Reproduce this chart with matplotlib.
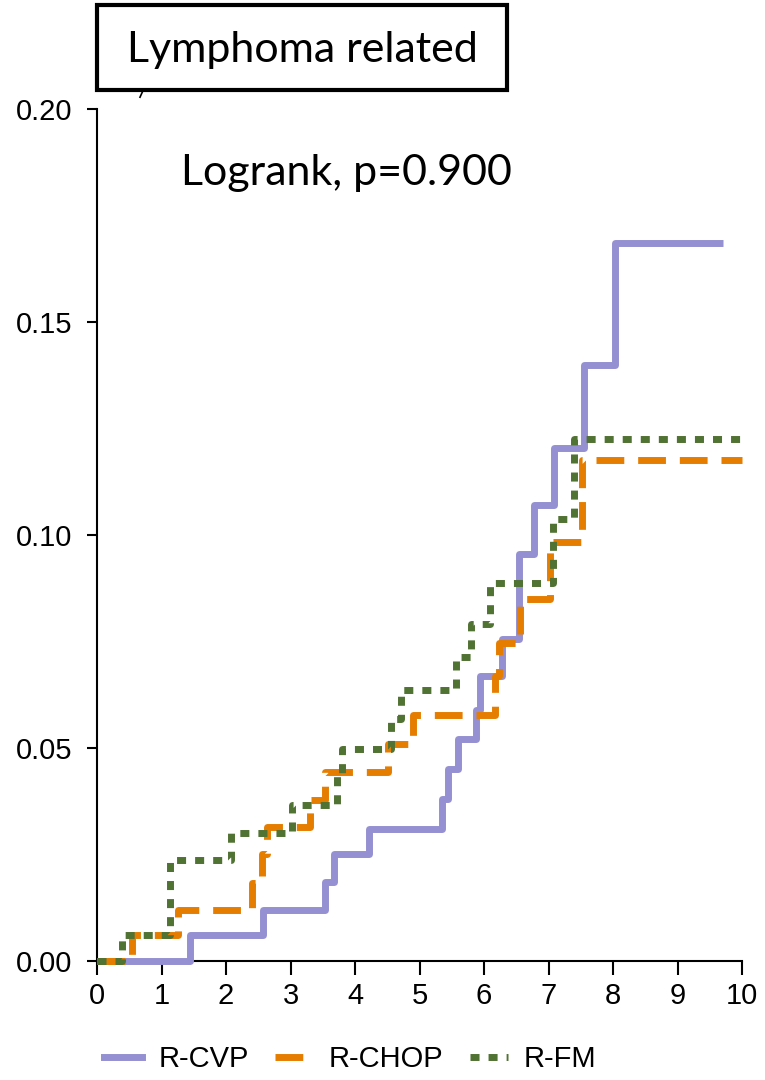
import matplotlib
matplotlib.use("Agg")
import matplotlib.pyplot as plt
from matplotlib.patches import Rectangle
from matplotlib.lines import Line2D

# cumulative incidence
cvp_t = [0, 1.44, 2.58, 3.53, 3.68, 4.22, 5.35, 5.44, 5.59, 5.88, 5.94, 6.28, 6.54, 6.77, 7.08, 7.55, 8.03, 9.70]
cvp_y = [0, 0.006, 0.012, 0.0185, 0.025, 0.031, 0.038, 0.045, 0.052, 0.059, 0.067, 0.0756, 0.0955, 0.107, 0.1205, 0.140, 0.1685, 0.1685]

chop_t = [0, 0.55, 1.26, 2.40, 2.56, 2.64, 3.30, 3.53, 4.51, 4.90, 6.17, 6.23, 6.55, 7.02, 7.52, 10]
chop_y = [0, 0.006, 0.012, 0.0183, 0.025, 0.0315, 0.0378, 0.0443, 0.051, 0.0577, 0.067, 0.0746, 0.085, 0.0983, 0.1175, 0.1175]

fm_t = [0, 0.38, 1.13, 2.07, 3.02, 3.72, 3.80, 4.56, 4.71, 5.57, 5.80, 6.10, 7.07, 7.40, 10]
fm_y = [0, 0.006, 0.0237, 0.030, 0.0365, 0.0437, 0.0498, 0.0568, 0.0636, 0.0714, 0.079, 0.0887, 0.1037, 0.1225, 0.1225]

labels = ["R-CVP", "R-CHOP", "R-FM"]
colors = ["#9590D2", "#E57E00", "#507232"]
xticks = list(range(0, 11))
yticks = [0.00, 0.05, 0.10, 0.15, 0.20]

plt.rcParams["font.family"] = ["Liberation Sans", "DejaVu Sans"]
plt.rcParams["xtick.labelsize"] = 21
plt.rcParams["ytick.labelsize"] = 21

fig = plt.figure(figsize=(7.65, 10.8), dpi=100)
ax = fig.add_axes([0.1268, 0.1102, 0.8432, 0.7889])

ax.step(cvp_t, cvp_y, where="post", color=colors[0], lw=5, solid_joinstyle="round",
        solid_capstyle="butt", clip_on=False, zorder=3)
ax.step(chop_t, chop_y, where="post", color=colors[1], lw=5, linestyle=(0, (4, 2)),
        dash_capstyle="butt", clip_on=False, zorder=4)
ax.step(fm_t, fm_y, where="post", color=colors[2], lw=5, linestyle=(0, (1.3, 1.3)),
        dash_capstyle="butt", clip_on=False, zorder=5)

ax.set_xlim(0, 10)
ax.set_ylim(0, 0.2)
ax.set_xticks(xticks)
ax.set_yticks(yticks)
ax.set_yticklabels(["%.2f" % v for v in yticks])
for s in ["top", "right"]:
    ax.spines[s].set_visible(False)
for s in ["left", "bottom"]:
    ax.spines[s].set_linewidth(1.5)
ax.tick_params(axis="x", length=10, width=1.5, pad=5)
ax.tick_params(axis="y", length=7, width=1.5, pad=11)

ax.text(0.13, 0.925, "Logrank, p=0.900", transform=ax.transAxes, fontsize=31,
        family="Lato", ha="left", va="center")

# title box
fig.add_artist(Rectangle((0.1268, 0.9167), 0.5359, 0.0787, transform=fig.transFigure,
                         fill=False, lw=3, ec="black"))
fig.text(0.3948, 0.954, "Lymphoma related", fontsize=31, family="Lato",
         ha="center", va="center")
fig.add_artist(Line2D([0.1830, 0.1875], [0.910, 0.917], transform=fig.transFigure,
                      color="black", lw=1.2))

handles = [
    Line2D([], [], color=colors[0], lw=5),
    Line2D([], [], color=colors[1], lw=5, linestyle=(0, (4, 2)), dash_capstyle="butt"),
    Line2D([], [], color=colors[2], lw=5, linestyle=(0, (1.3, 1.3)), dash_capstyle="butt"),
]
fig.legend(handles, labels, loc="center", bbox_to_anchor=(0.458, 0.019), ncol=3,
           frameon=False, handlelength=1.3, handletextpad=0.55, columnspacing=0.9,
           prop={"family": "Liberation Sans", "size": 21})

fig.savefig("out.png", dpi=100)
